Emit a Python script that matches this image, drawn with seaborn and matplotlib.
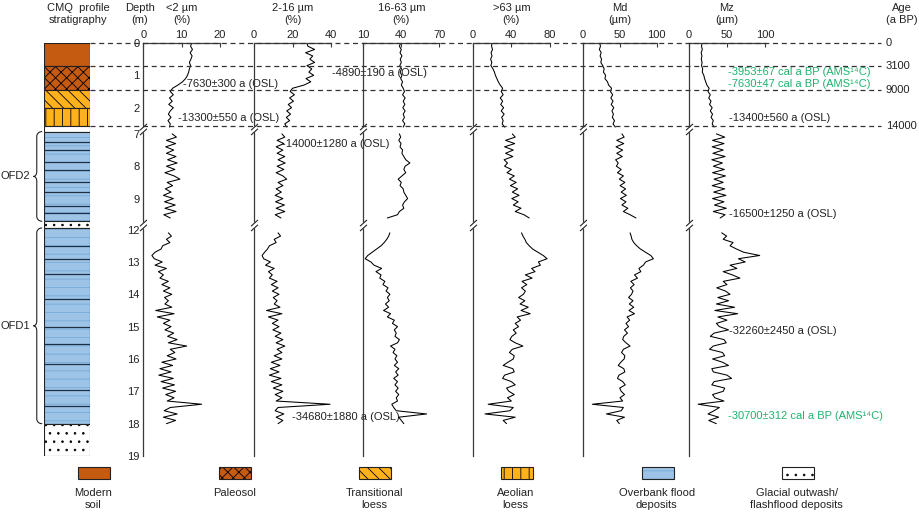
import numpy as np
import pandas as pd
import matplotlib
matplotlib.use("Agg")
import matplotlib.pyplot as plt
from matplotlib.path import Path
from matplotlib.patches import Rectangle
from matplotlib.ticker import FixedLocator, NullLocator
import seaborn as sns

sns.set_style("white")
plt.rcParams["font.family"] = ["Liberation Sans", "DejaVu Sans"]
plt.rcParams["hatch.linewidth"] = 0.6

# ---------------- data ----------------
# sampling depths (m) of the three logged sections
depth_a = np.round(np.arange(0.0, 2.61, 0.1), 1)
depth_b = np.round(np.arange(7.0, 9.61, 0.1), 1)
depth_c = np.round(np.arange(12.1, 18.01, 0.1), 1)

# <2 um (%)
clay_a = [12.6, 12.3, 12.8, 12.2, 12.7, 12.4, 12.0, 12.3, 12.0, 11.8, 11.5, 11.0, 10.2, 9.0,
          7.6, 7.0, 7.8, 6.8, 7.5, 6.6, 7.8, 7.0, 6.5, 7.2, 6.4, 7.0, 6.8]
clay_b = [7.5, 8.6, 6.0, 8.4, 5.8, 7.9, 6.0, 8.5, 6.3, 8.8, 6.0, 8.2, 5.6, 8.0, 9.5, 6.2,
          7.6, 5.7, 7.2, 5.2, 7.8, 5.5, 8.3, 5.6, 8.5, 5.3, 7.0]
clay_c = [6.5, 7.3, 6.0, 6.9, 5.0, 4.6, 3.0, 2.2, 2.8, 4.9,
          3.0, 6.0, 3.9, 5.2, 4.3, 6.5, 4.8, 6.9, 5.2, 7.4,
          5.5, 6.5, 5.6, 7.4, 3.2, 8.0, 3.6, 6.9, 5.2, 7.2,
          5.6, 7.9, 6.3, 8.8, 6.5, 11.3, 7.0, 8.2, 6.2, 8.5,
          4.8, 7.6, 4.3, 7.2, 4.0, 7.8, 4.6, 8.1, 5.0, 8.4,
          5.8, 8.0, 6.2, 15.2, 7.0, 5.4, 8.8, 5.2, 8.4, 6.0]

# 2-16 um (%)
fsilt_a = [27.5, 28.0, 31.5, 26.8, 30.5, 29.0, 31.5, 27.5, 30.0, 28.5, 31.0, 27.0, 29.5, 26.0,
           20.0, 18.8, 21.0, 18.5, 20.5, 17.8, 19.5, 17.0, 19.0, 16.8, 18.5, 16.0, 17.0]
fsilt_b = [14.5, 16.0, 12.0, 15.5, 11.5, 15.0, 12.0, 16.0, 12.5, 16.2, 12.0, 15.5, 11.5, 15.0,
           17.0, 12.5, 15.0, 11.5, 14.2, 11.0, 15.0, 11.2, 15.8, 11.5, 16.0, 11.0, 14.0]
fsilt_c = [12.5, 13.8, 10.5, 11.5, 8.0, 7.0, 5.5, 4.2, 5.0, 8.5,
           6.0, 10.5, 7.5, 9.5, 8.0, 12.0, 9.0, 12.5, 9.5, 13.0,
           10.0, 12.0, 10.5, 13.5, 6.5, 14.5, 7.5, 12.5, 9.5, 13.0,
           9.8, 14.0, 11.0, 15.0, 11.5, 16.0, 12.0, 14.5, 10.5, 14.5,
           9.0, 13.5, 8.5, 13.0, 8.0, 14.0, 9.0, 14.5, 10.0, 15.0,
           11.0, 14.5, 11.5, 39.5, 12.5, 11.0, 15.5, 11.5, 15.0, 12.5]

# 16-63 um (%)
csilt_a = [39.5, 38.5, 40.0, 39.0, 40.5, 39.2, 40.0, 38.8, 40.2, 39.0, 40.5, 39.5, 41.0, 40.0,
           41.5, 42.5, 41.0, 43.0, 41.5, 42.8, 41.2, 43.0, 41.5, 42.5, 41.0, 42.8, 41.5]
csilt_b = [38.5, 39.5, 38.0, 39.8, 39.0, 41.0, 40.5, 42.0, 43.5, 46.8, 43.0, 42.0, 43.5, 40.5,
           37.5, 40.0, 39.0, 41.5, 42.0, 43.5, 45.0, 42.5, 41.0, 42.0, 38.5, 37.0, 29.0]
csilt_c = [31.0, 30.0, 28.5, 26.5, 24.0, 20.5, 17.0, 13.5, 11.5, 16.0,
           18.5, 24.5, 20.0, 24.0, 23.0, 27.0, 25.5, 29.5, 28.0, 31.0,
           29.0, 30.5, 27.5, 30.0, 26.0, 31.5, 29.0, 34.5, 33.0, 37.0,
           34.5, 36.0, 35.0, 38.5, 37.0, 31.5, 35.0, 33.5, 36.5, 35.0,
           37.0, 34.5, 38.0, 35.5, 37.5, 34.0, 37.0, 35.0, 37.5, 35.5,
           38.0, 36.0, 37.0, 32.5, 34.0, 36.0, 60.0, 38.0, 40.0, 42.0]

# >63 um (%)
sand_a = [20.0, 19.5, 20.5, 19.0, 20.0, 18.5, 19.8, 18.8, 21.0, 22.5, 23.5, 25.0, 26.5, 28.5,
          31.0, 29.5, 31.5, 28.5, 31.0, 29.0, 32.0, 29.5, 32.5, 30.0, 31.5, 30.5, 33.0]
sand_b = [41.0, 44.0, 34.0, 43.5, 33.0, 42.0, 34.0, 41.5, 32.5, 36.0, 33.0, 40.0, 35.5, 43.0,
          38.0, 45.0, 39.0, 46.5, 41.0, 48.0, 40.5, 47.0, 42.0, 50.0, 44.0, 53.0, 58.5]
sand_c = [50.5, 52.0, 54.0, 55.5, 58.5, 62.0, 67.5, 73.0, 77.0, 68.0,
          70.0, 61.0, 64.5, 54.5, 61.5, 51.0, 56.0, 50.5, 54.5, 52.5,
          47.5, 54.0, 49.0, 57.5, 50.0, 59.5, 46.0, 49.5, 44.0, 47.5,
          42.0, 45.0, 40.5, 38.5, 44.0, 52.0, 41.0, 38.0, 43.0, 42.0,
          36.5, 31.5, 41.5, 43.0, 33.0, 31.0, 40.0, 44.0, 35.0, 37.5,
          43.0, 36.0, 40.0, 16.0, 42.0, 38.5, 12.7, 44.0, 31.5, 35.0]

# Md (um)
md_a = [23.0, 24.0, 22.5, 25.0, 23.5, 25.5, 24.5, 27.0, 29.0, 28.0, 31.0, 30.0, 33.5, 35.0,
        39.0, 37.5, 40.5, 38.0, 41.0, 38.5, 42.0, 39.5, 41.5, 40.0, 43.0, 41.0, 44.0]
md_b = [53.0, 56.0, 46.0, 55.5, 45.0, 54.0, 46.0, 53.5, 44.5, 48.0, 45.5, 52.0, 47.0, 55.0,
        49.5, 57.0, 50.5, 58.0, 52.0, 59.0, 51.0, 58.5, 53.0, 61.0, 55.0, 64.0, 72.0]
md_c = [64.0, 65.5, 66.5, 69.0, 73.0, 78.0, 85.0, 92.0, 95.5, 85.0,
        82.0, 76.0, 78.5, 70.0, 74.0, 65.0, 69.5, 64.5, 68.0, 66.0,
        62.0, 68.0, 63.0, 69.0, 62.5, 70.0, 60.0, 63.5, 58.5, 62.0,
        56.5, 60.5, 55.5, 54.0, 58.5, 64.0, 55.0, 52.5, 57.0, 56.0,
        51.5, 48.0, 55.5, 57.0, 49.0, 47.0, 54.0, 57.5, 50.0, 52.0,
        56.5, 50.5, 54.0, 13.0, 55.0, 52.0, 32.0, 56.5, 46.0, 49.5]

# Mz (um)
mz_a = [17.0, 16.5, 17.5, 16.0, 17.0, 16.2, 17.2, 16.5, 18.0, 17.5, 19.5, 20.5, 22.0, 23.5,
        26.5, 25.0, 28.0, 26.0, 29.0, 27.0, 30.5, 28.0, 31.0, 29.0, 32.0, 30.5, 33.0]
mz_b = [36.0, 47.0, 31.0, 46.0, 30.5, 45.0, 31.5, 47.5, 30.0, 44.0, 32.0, 46.5, 31.0, 48.0,
        33.0, 45.0, 30.5, 47.0, 32.5, 48.5, 31.0, 46.0, 33.5, 49.0, 32.0, 47.5, 41.0]
mz_c = [43.0, 49.5, 45.0, 58.0, 54.0, 62.5, 72.0, 93.0, 65.0, 74.0,
        54.0, 63.0, 45.0, 57.0, 67.0, 45.0, 50.0, 36.5, 48.0, 54.0,
        38.0, 52.0, 36.0, 60.0, 34.0, 64.0, 38.0, 50.0, 36.0, 40.0,
        52.0, 33.0, 28.0, 46.0, 49.0, 32.0, 27.0, 44.0, 47.0, 31.0,
        44.0, 52.0, 30.0, 32.0, 50.0, 56.0, 33.0, 30.0, 47.0, 45.0,
        31.0, 34.0, 46.0, 12.0, 40.0, 33.0, 25.0, 39.0, 26.0, 36.0]

headers = ["<2 µm\n(%)", "2-16 µm\n(%)", "16-63 µm\n(%)", ">63 µm\n(%)", "Md\n(µm)", "Mz\n(µm)"]
series = [(clay_a, clay_b, clay_c), (fsilt_a, fsilt_b, fsilt_c), (csilt_a, csilt_b, csilt_c),
          (sand_a, sand_b, sand_c), (md_a, md_b, md_c), (mz_a, mz_b, mz_c)]
xlims = [(0, 20), (0, 40), (10, 70), (0, 80), (0, 100), (0, 100)]
xticks = [[0, 10, 20], [0, 20, 40], [10, 40, 70], [0, 40, 80], [0, 50, 100], [0, 50, 100]]
depth_ticks = [0, 1, 2, 7, 8, 9, 12, 13, 14, 15, 16, 17, 18, 19]

# unit boundaries and ages (right side)
bound_depth = [0.0, 0.71, 1.45, 2.58]
bound_age = ["0", "3100", "9000", "14000"]

# dating results
ann_panel = [0, 0, 1, 1, 1, 5, 5, 5, 5, 5, 5]
ann_x = [10.3, 9.0, 40.5, 14.4, 19.7, 51.3, 51.3, 52.6, 52.6, 52.6, 51.3]
ann_depth = [1.27, 2.31, 0.92, 7.31, 17.80, 0.89, 1.28, 2.31, 9.47, 15.15, 17.77]
ann_text = ["-7630±300 a (OSL)", "-13300±550 a (OSL)", "-4890±190 a (OSL)",
            "-14000±1280 a (OSL)", "-34680±1880 a (OSL)",
            "-3953±67 cal a BP (AMS¹⁴C)", "-7630±47 cal a BP (AMS¹⁴C)",
            "-13400±560 a (OSL)", "-16500±1250 a (OSL)", "-32260±2450 a (OSL)",
            "-30700±312 cal a BP (AMS¹⁴C)"]
ann_green = [False, False, False, False, False, True, True, False, False, False, True]

# stratigraphy column
strat_top = [0.0, 0.71, 1.45, 2.0, 2.56, 6.93, 9.70, 11.95, 18.0]
strat_bot = [0.71, 1.45, 2.0, 2.56, 6.93, 9.70, 11.95, 18.0, 19.0]
strat_kind = ["modern", "paleosol", "transitional", "aeolian", "glacial",
              "overbank", "glacial", "overbank", "glacial"]
ofd_lines = [7.24, 7.51, 7.88, 8.13, 8.48, 8.80, 9.24, 9.45,
             12.50, 12.90, 13.36, 14.16, 15.02, 15.55, 16.14, 16.95, 17.46]
units = [("OFD2", 6.93, 9.70), ("OFD1", 11.95, 18.0)]

legend_kind = ["modern", "paleosol", "transitional", "aeolian", "overbank", "glacial"]
legend_text = ["Modern\nsoil", "Paleosol", "Transitional\nloess", "Aeolian\nloess",
               "Overbank flood\ndeposits", "Glacial outwash/\nflashflood deposits"]

# ---------------- styles ----------------
BROWN, ORANGE, BLUE = "#C55A11", "#FFB21C", "#9DC3E6"
STYLE = {
    "modern": (BROWN, None, "black"),
    "paleosol": (BROWN, "xxx", "black"),
    "transitional": (ORANGE, "\\\\\\", "black"),
    "aeolian": (ORANGE, "||", "black"),
    "overbank": (BLUE, "--", "#78aad8"),
    "glacial": ("white", "..", "black"),
}
GREEN = "#1fb36e"
SPINE = "#3a3a3a"

# broken depth axis: 0-2.6, 7-9.7, 12-19 m
D_KNOTS = [-50, 0, 2.6, 6.8, 9.7, 11.9, 19, 70]
P_KNOTS = [-50, 0, 2.6, 2.61, 5.51, 5.67, 12.77, 63.77]


def fwd(d):
    return np.interp(d, D_KNOTS, P_KNOTS)


def inv(p):
    return np.interp(p, P_KNOTS, D_KNOTS)


def depth_axis(ax):
    ax.set_yscale("function", functions=(fwd, inv))
    ax.set_ylim(19, 0)


W, H = 920, 517
fig = plt.figure(figsize=(W / 100, H / 100), dpi=100)
TOP, BOT = 43, 456
AB, AH = 1 - BOT / H, (BOT - TOP) / H

# legend (pixel coordinates)
ax_leg = fig.add_axes([0, 0, 1, 1])
ax_leg.set_xlim(0, W)
ax_leg.set_ylim(H, 0)
ax_leg.axis("off")
leg_x = [78.3, 219.3, 359.3, 500.7, 641.7, 781.7]
for x0, kind, txt in zip(leg_x, legend_kind, legend_text):
    fc, hatch, hc = STYLE[kind]
    ax_leg.add_patch(Rectangle((x0, 466.7), 32, 12.6, facecolor=fc, edgecolor=hc, hatch=hatch, lw=0))
    ax_leg.add_patch(Rectangle((x0, 466.7), 32, 12.6, facecolor="none", edgecolor="#222", lw=0.8))
    ax_leg.text(x0 + 15, 488, txt, ha="center", va="top", fontsize=8, linespacing=1.3, color="#222")

# header texts
def header(xpx, txt):
    fig.text(xpx / W, 1 - 14 / H, txt, ha="center", va="center", fontsize=8,
             linespacing=1.35, color="#222")


header(78, "CMQ  profile\nstratigraphy")
header(140, "Depth\n(m)")
header(902, "Age\n(a BP)")

# ---------------- data panels ----------------
panel_x = [143.5, 254, 363.3, 472.7, 582.7, 689]
panel_w = [76.5, 77, 76, 77.3, 74, 76]
depths = [depth_a, depth_b, depth_c]
slash = Path([(-1, -1.6), (1, 0.2), (-1, -0.2), (1, 1.6)],
             [Path.MOVETO, Path.LINETO, Path.MOVETO, Path.LINETO])
axes = []
for i, (col, lim, tks, head) in enumerate(zip(series, xlims, xticks, headers)):
    x0, w = panel_x[i], panel_w[i]
    ax = fig.add_axes([x0 / W, AB, w / W, AH])
    axes.append(ax)
    df = pd.concat([pd.DataFrame({"value": v, "depth": d, "seg": k})
                    for k, (v, d) in enumerate(zip(col, depths))])
    sns.lineplot(data=df, x="value", y="depth", units="seg", estimator=None, sort=False,
                 color="black", linewidth=0.75, ax=ax, legend=False)
    depth_axis(ax)
    ax.set_xlim(*lim)
    ax.set_xticks(tks)
    ax.yaxis.set_major_locator(FixedLocator(depth_ticks))
    ax.yaxis.set_minor_locator(NullLocator())
    ax.set_xlabel("")
    ax.set_ylabel("")
    ax.xaxis.set_ticks_position("top")
    ax.patch.set_alpha(0)
    for s in ["right", "bottom"]:
        ax.spines[s].set_visible(False)
    for s in ["left", "top"]:
        ax.spines[s].set_color(SPINE)
        ax.spines[s].set_linewidth(0.9)
    ax.tick_params(axis="both", direction="in", length=3, width=0.8, colors=SPINE,
                   labelcolor="#222", labelsize=8, pad=2)
    if i == 0:
        ax.set_yticklabels([str(t) for t in depth_ticks])
        ax.tick_params(axis="y", pad=3)
    else:
        ax.tick_params(axis="y", labelleft=False)
    # axis break marks
    tr = ax.get_yaxis_transform()
    ax.plot([0, 0], [6.86, 11.4], transform=tr, ls="none", marker="s", ms=4,
            mfc="white", mec="none", clip_on=False, zorder=5)
    ax.plot([0, 0], [6.86, 11.4], transform=tr, ls="none", marker=slash, ms=8,
            mfc="none", mec="#222", mew=0.8, clip_on=False, zorder=6)
    header(x0 + w / 2, head)

for p, x, d, t, g in zip(ann_panel, ann_x, ann_depth, ann_text, ann_green):
    axes[p].text(x, d, t, ha="left", va="center", fontsize=8,
                 color=GREEN if g else "#222", zorder=7)

# ---------------- stratigraphy column ----------------
ax_s = fig.add_axes([44.5 / W, AB, 45.5 / W, AH])
depth_axis(ax_s)
ax_s.set_xlim(0, 1)
ax_s.axis("off")
for d0, d1, kind in zip(strat_top, strat_bot, strat_kind):
    fc, hatch, hc = STYLE[kind]
    ax_s.axhspan(d0, d1, facecolor=fc, edgecolor=hc, hatch=hatch, lw=0)
    ax_s.axhspan(d0, d1, facecolor="none", edgecolor="#222", lw=0.8)
ax_s.hlines(ofd_lines, 0, 1, colors="#1d3046", lw=0.9)

ytr = ax_s.get_yaxis_transform()
for name, y0, y1 in units:
    ym, r = (y0 + y1) / 2, 0.15
    xi, xo, xt = -0.06, -0.17, -0.24
    t = np.linspace(0, np.pi / 2, 12)
    bx = np.concatenate([xi - (xi - xo) * np.sin(t), [xo],
                         xt + (xo - xt) * np.cos(t), (xt + (xo - xt) * np.cos(t))[::-1], [xo],
                         (xi - (xi - xo) * np.sin(t))[::-1]])
    by = np.concatenate([y0 + r - r * np.cos(t), [ym - r],
                         ym - r + r * np.sin(t), (ym + r - r * np.sin(t))[::-1], [y1 - r],
                         (y1 - r + r * np.cos(t))[::-1]])
    ax_s.plot(bx, by, color="#222", lw=0.8, transform=ytr, clip_on=False)
    ax_s.text(-0.31, ym, name, transform=ytr, ha="right", va="center", fontsize=8, color="#222")

# ---------------- boundary lines and ages ----------------
ax_o = fig.add_axes([90 / W, AB, 791 / W, AH])
depth_axis(ax_o)
ax_o.set_xlim(0, 1)
ax_o.axis("off")
ax_o.hlines(bound_depth, 0, 1, colors="#333", linestyles=(0, (4, 3)), lw=0.9, clip_on=False)
for d, a in zip(bound_depth, bound_age):
    ax_o.text(1.006, d, a, transform=ax_o.get_yaxis_transform(), ha="left", va="center",
              fontsize=8, color="#222")

fig.savefig("out.png", dpi=100)
